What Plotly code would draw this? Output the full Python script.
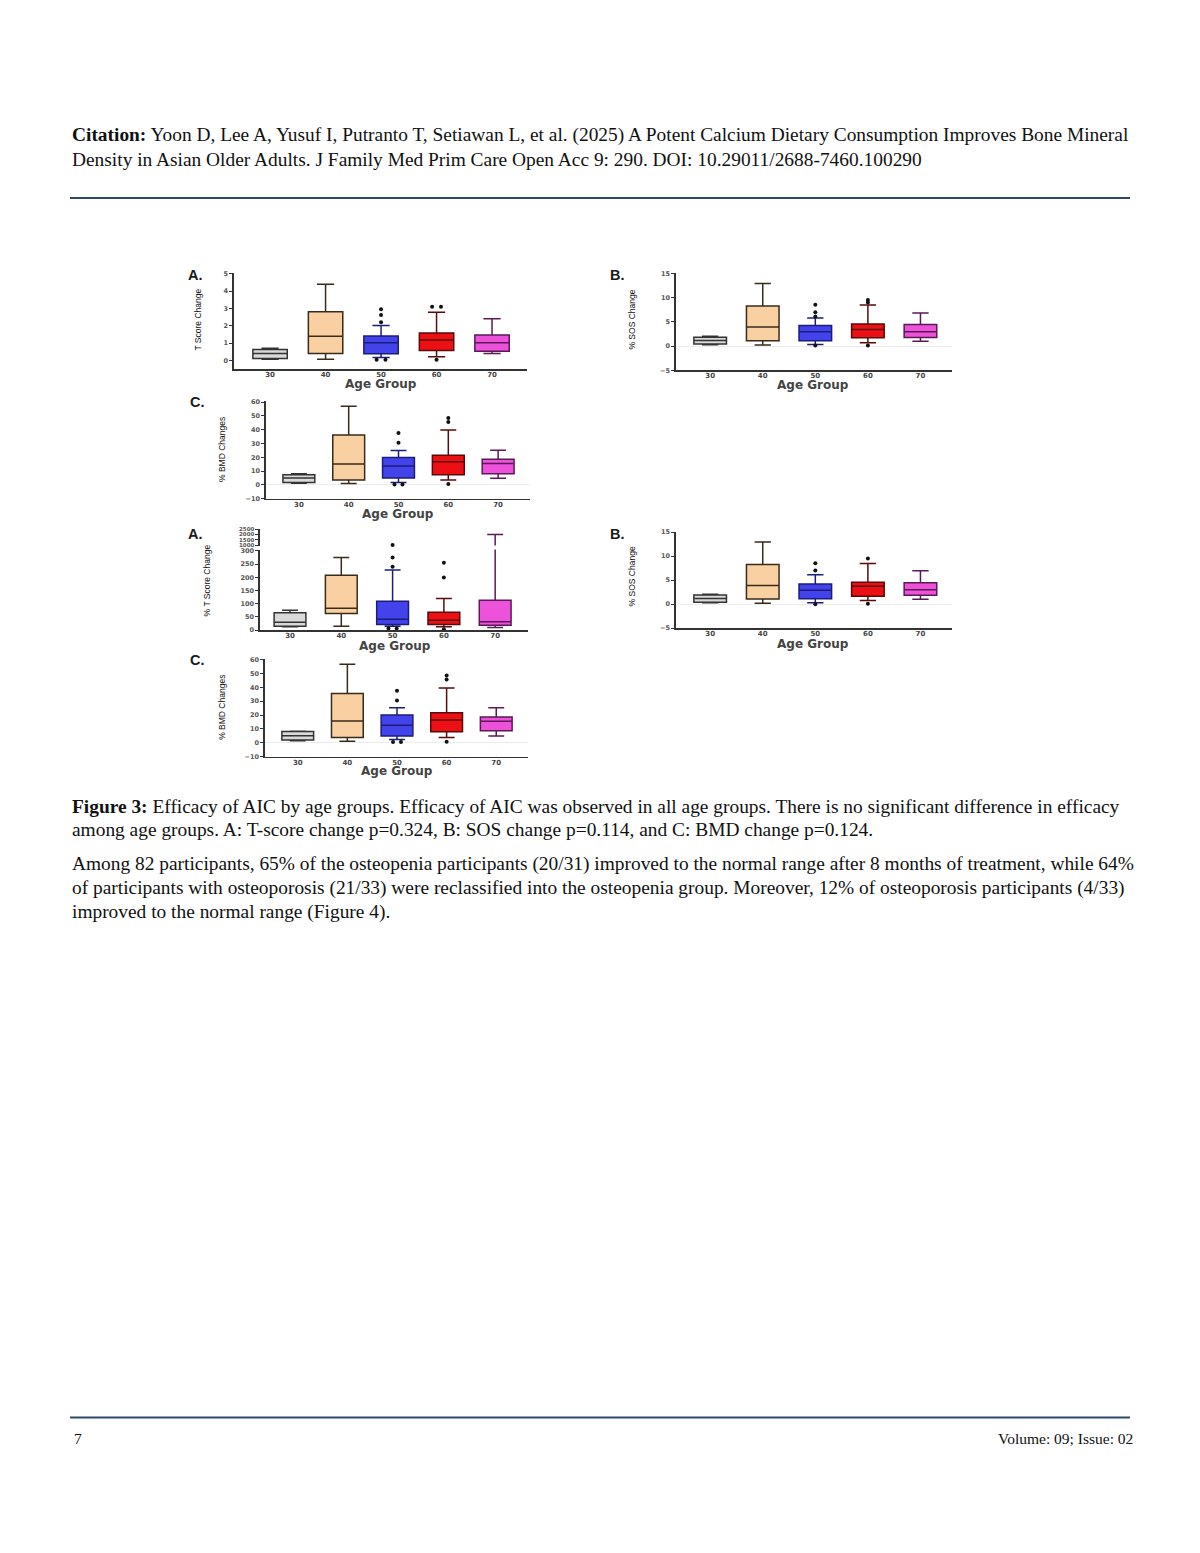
import plotly.graph_objects as go

W, H = 1200, 1553

# ---------------- data ----------------
age_groups = ["30", "40", "50", "60", "70"]
fill_colors = ["#d9d9d9", "#f9d0a2", "#4343ec", "#ec1014", "#ec52da"]
line_colors = ["#333333", "#3a2a1a", "#1c1c7a", "#5a0a0a", "#5a1a55"]

# Panel A (top): T Score Change
tscore_q1 = [0.11, 0.40, 0.38, 0.57, 0.53]
tscore_median = [0.40, 1.39, 1.01, 1.18, 1.01]
tscore_q3 = [0.63, 2.81, 1.41, 1.58, 1.46]
tscore_lower = [0.06, 0.06, 0.16, 0.21, 0.40]
tscore_upper = [0.70, 4.39, 2.02, 2.78, 2.40]
tscore_outliers = [[], [], [2.95, 2.62, 2.20, 0.04, 0.04], [3.10, 3.10, 0.03], []]

# Panel B (top): % SOS Change
sos1_q1 = [0.41, 1.09, 1.09, 1.70, 1.77]
sos1_median = [1.16, 3.95, 2.93, 3.40, 2.93]
sos1_q3 = [1.84, 8.25, 4.23, 4.57, 4.43]
sos1_lower = [0.27, 0.20, 0.34, 0.68, 1.00]
sos1_upper = [2.00, 12.90, 5.80, 8.45, 6.80]
sos1_outliers = [[], [], [8.5, 6.95, 6.1, 0.1], [9.5, 9.0, 0.1], []]

# Panel C (top): % BMD Changes
bmd1_q1 = [1.7, 3.6, 5.0, 7.4, 8.2]
bmd1_median = [5.0, 15.1, 13.7, 16.8, 15.6]
bmd1_q3 = [7.4, 36.2, 19.9, 21.6, 18.7]
bmd1_lower = [1.2, 1.0, 1.7, 3.6, 4.8]
bmd1_upper = [8.2, 57.1, 25.0, 39.8, 25.2]
bmd1_outliers = [[], [], [37.7, 30.5, 0.4, 0.4], [48.5, 45.6, 0.7], []]

# Panel A (bottom): % T Score Change (broken axis)
tpct_q1 = [15.1, 63.0, 21.4, 21.4, 19.0]
tpct_median = [30.3, 83.0, 41.6, 37.8, 31.5]
tpct_q3 = [65.5, 208.0, 109.7, 68.0, 113.0]
tpct_lower = [12.6, 15.1, 15.0, 12.6, 10.0]
tpct_upper = [75.6, 275.0, 228.0, 120.0, 2000.0]
tpct_outliers = [[], [], [1000, 275, 240, 6, 6], [255, 199, 3.8], []]

# Panel B (bottom): % SOS Change
sos2_q1 = [0.40, 1.09, 1.10, 1.64, 1.84]
sos2_median = [1.20, 3.90, 2.90, 3.75, 3.00]
sos2_q3 = [1.90, 8.25, 4.20, 4.57, 4.43]
sos2_lower = [0.27, 0.20, 0.27, 0.75, 1.00]
sos2_upper = [2.05, 12.95, 6.10, 8.45, 6.95]
sos2_outliers = [[], [], [8.5, 7.0, 0.0], [9.5, 0.1], []]

# Panel C (bottom): % BMD Changes
bmd2_q1 = [1.9, 3.8, 4.8, 7.9, 8.6]
bmd2_median = [5.0, 15.7, 12.6, 16.4, 15.5]
bmd2_q3 = [8.1, 35.5, 20.0, 21.7, 18.6]
bmd2_lower = [1.4, 1.0, 2.4, 3.8, 4.8]
bmd2_upper = [8.3, 56.7, 25.2, 39.5, 25.2]
bmd2_outliers = [[], [], [37.6, 30.5, 0.5, 0.5], [48.6, 45.7, 0.7], []]

# ---------------- helpers ----------------
def px(x):
    return x / W

def py(y):
    return 1 - y / H

fig = go.Figure()
layout = {}
TICKFONT = "DejaVu Sans"

def add_axes(n, xdom, ydom, xrange, yrange, yticks, show_x=True, ytickfont=6.5,
             anchor_x=None, zero=False):
    xa = "xaxis" if n == 1 else f"xaxis{n}"
    ya = "yaxis" if n == 1 else f"yaxis{n}"
    xname = anchor_x if anchor_x else (f"x{n}" if n > 1 else "x")
    yname = f"y{n}" if n > 1 else "y"
    if anchor_x is None:
        layout[xa] = dict(
            domain=[px(xdom[0]), px(xdom[1])], range=xrange, anchor=yname,
            showline=show_x, linecolor="#333333", linewidth=1.6,
            tickvals=list(range(len(age_groups))), ticktext=age_groups,
            ticks="", showgrid=False, zeroline=False, ticklabelstandoff=-2,
            tickfont=dict(family=TICKFONT, size=7, color="#444444", weight="bold"),
        )
    layout[ya] = dict(
        domain=[py(ydom[1]), py(ydom[0])], range=yrange, anchor=xname,
        showline=True, linecolor="#333333", linewidth=1.6,
        tickvals=yticks, ticks="outside", ticklen=3, tickwidth=1, tickcolor="#333333",
        showgrid=False, zeroline=zero, zerolinecolor="#ececec", zerolinewidth=1,
        tickfont=dict(family=TICKFONT, size=ytickfont, color="#555555", weight="bold"),
    )
    return xname, yname

def add_panel(xname, yname, q1, med, q3, lo, hi, outl, width=0.62):
    for i in range(len(age_groups)):
        fig.add_trace(go.Box(
            x=[i], q1=[q1[i]], median=[med[i]], q3=[q3[i]],
            lowerfence=[lo[i]], upperfence=[hi[i]],
            width=width, whiskerwidth=0.5,
            fillcolor=fill_colors[i], line=dict(color=line_colors[i], width=1.5),
            boxpoints=False, showlegend=False, hoverinfo="skip",
            xaxis=xname, yaxis=yname,
        ))
        pts = outl[i]
        if pts:
            xs = []
            for k, v in enumerate(pts):
                dup = [j for j, w in enumerate(pts) if w == v]
                if len(dup) > 1:
                    off = (dup.index(k) - (len(dup) - 1) / 2) * 0.16
                else:
                    off = 0
                xs.append(i + off)
            fig.add_trace(go.Scatter(
                x=xs, y=pts, mode="markers",
                marker=dict(color="#111111", size=4),
                showlegend=False, hoverinfo="skip", cliponaxis=False,
                xaxis=xname, yaxis=yname,
            ))

# Panel A1
xn, yn = add_axes(1, (234, 527), (271, 368), [-0.65, 4.63], [-0.52, 5.06], [0, 1, 2, 3, 4, 5])
add_panel(xn, yn, tscore_q1, tscore_median, tscore_q3, tscore_lower, tscore_upper, tscore_outliers)
# Panel B1
xn, yn = add_axes(2, (676, 952), (271, 369), [-0.65, 4.6], [-5, 15.1], [-5, 0, 5, 10, 15], zero=True)
add_panel(xn, yn, sos1_q1, sos1_median, sos1_q3, sos1_lower, sos1_upper, sos1_outliers)
# Panel C1
xn, yn = add_axes(3, (266, 530), (400, 498), [-0.66, 4.64], [-10, 60.7],
                  [-10, 0, 10, 20, 30, 40, 50, 60], zero=True)
add_panel(xn, yn, bmd1_q1, bmd1_median, bmd1_q3, bmd1_lower, bmd1_upper, bmd1_outliers, width=0.64)
# Panel A2 (lower part of broken axis)
xn, yn = add_axes(4, (260, 528), (549, 630), [-0.585, 4.64], [0, 305],
                  [0, 50, 100, 150, 200, 250, 300])
add_panel(xn, yn, tpct_q1, tpct_median, tpct_q3, tpct_lower, tpct_upper, tpct_outliers)
# Panel A2 (upper part of broken axis)
xn5, yn5 = add_axes(5, (260, 528), (528, 545), None, [950, 2550],
                    [1000, 1500, 2000, 2500], ytickfont=5.5, anchor_x="x4")
add_panel("x4", yn5, tpct_q1, tpct_median, tpct_q3, tpct_lower, tpct_upper,
          [[v for v in o if v >= 950] for o in tpct_outliers])
# Panel B2
xn, yn = add_axes(6, (676, 952), (531, 628), [-0.65, 4.6], [-5, 15.1], [-5, 0, 5, 10, 15], zero=True)
add_panel(xn, yn, sos2_q1, sos2_median, sos2_q3, sos2_lower, sos2_upper, sos2_outliers)
# Panel C2
xn, yn = add_axes(7, (265, 528), (659, 757), [-0.66, 4.64], [-10, 60.4],
                  [-10, 0, 10, 20, 30, 40, 50, 60], zero=True)
add_panel(xn, yn, bmd2_q1, bmd2_median, bmd2_q3, bmd2_lower, bmd2_upper, bmd2_outliers, width=0.64)

# ---------------- annotations ----------------
ann = []
def text(x, y, s, size=19.4, anchor="left", family="Liberation Serif", color="#111111", angle=0):
    ann.append(dict(x=px(x), y=py(y), xref="paper", yref="paper", text=s, showarrow=False,
                    xanchor=anchor, yanchor="middle", textangle=angle,
                    font=dict(family=family, size=size, color=color)))

# panel letters
for (x, y, s) in [(186, 273, "A."), (608, 273, "B."), (188, 401, "C."),
                  (186, 533, "A."), (608, 533, "B."), (188, 660, "C.")]:
    text(x, y, "<b>" + s + "</b>", size=14.5, family="Liberation Sans", color="#1a1a1a")

# y titles
for (x, y, s) in [(198, 318, "T Score Change"), (632, 318, "% SOS Change"),
                  (222, 449, "% BMD Changes"), (207, 580, "% T Score Change"),
                  (632, 576, "% SOS Change"), (222, 708, "% BMD Changes")]:
    text(x, y, s, size=8.5, anchor="center", family="Liberation Sans",
         color="#111111", angle=-90)

# x titles
for (x, y) in [(381, 383), (813, 384), (398, 513), (395, 646), (813, 644), (397, 771)]:
    text(x, y, "<b>Age Group</b>", size=12, anchor="center", family="DejaVu Sans",
         color="#444444")

# page text
text(70, 133, "<b>Citation:</b> Yoon D, Lee A, Yusuf I, Putranto T, Setiawan L, et al. (2025) A Potent Calcium Dietary Consumption Improves Bone Mineral")
text(70, 157, "Density in Asian Older Adults. J Family Med Prim Care Open Acc 9: 290. DOI: 10.29011/2688-7460.100290")
text(70, 807, "<b>Figure 3:</b> Efficacy of AIC by age groups. Efficacy of AIC was observed in all age groups. There is no significant difference in efficacy")
text(70, 830, "among age groups. A: T-score change p=0.324, B: SOS change p=0.114, and C: BMD change p=0.124.")
text(70, 865, "Among 82 participants, 65% of the osteopenia participants (20/31) improved to the normal range after 8 months of treatment, while 64%")
text(70, 889, "of participants with osteoporosis (21/33) were reclassified into the osteopenia group. Moreover, 12% of osteoporosis participants (4/33)")
text(70, 913, "improved to the normal range (Figure 4).")
text(72, 1442, "7", size=15.5)
text(1135, 1442, "Volume: 09; Issue: 02", size=15.5, anchor="right")

shapes = []
for yy in (196, 1421):
    shapes.append(dict(type="line", xref="paper", yref="paper", x0=px(70), x1=px(1130),
                       y0=py(yy), y1=py(yy), line=dict(color="#2b4a6b", width=2)))

fig.update_layout(
    width=W, height=H, margin=dict(l=0, r=0, t=0, b=0),
    paper_bgcolor="white", plot_bgcolor="rgba(0,0,0,0)",
    showlegend=False, annotations=ann, shapes=shapes, boxmode="overlay",
    **layout,
)

fig.write_html(
    "out.html",
    config={"displayModeBar": False, "staticPlot": True},
    post_script="document.documentElement.style.margin='0';document.body.style.margin='0';"
                "document.body.style.padding='0';document.body.style.overflow='hidden';",
)
